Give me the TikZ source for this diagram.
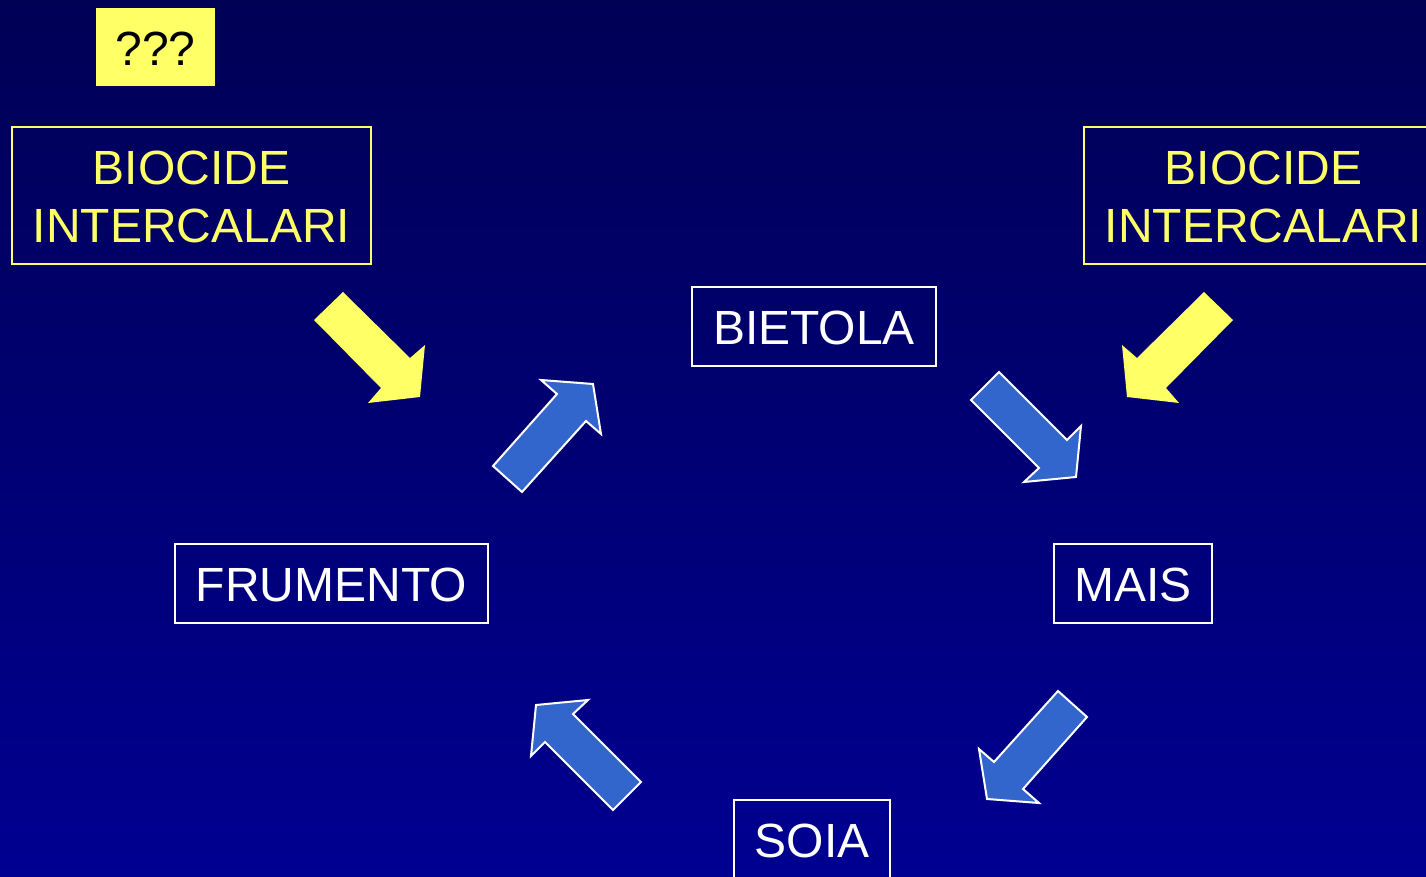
\documentclass[tikz,border=0pt]{standalone}
\usepackage{fontspec}
\setmainfont{Liberation Sans}
\definecolor{bgtop}{RGB}{0,0,85}
\definecolor{bgbot}{RGB}{0,0,145}
\definecolor{yel}{RGB}{255,255,102}
\definecolor{blu}{RGB}{51,102,204}
\begin{document}
\begin{tikzpicture}[x=0.5pt,y=-0.5pt,
  box/.style={draw=white, line width=0.8pt, text=white, inner sep=0pt, align=center,
    font=\fontsize{24}{29}\selectfont},
  ybox/.style={box, draw=yel, text=yel},
  qbox/.style={fill=yel, text=black, inner sep=0pt, font=\fontsize{24}{29}\selectfont,
    minimum width=59.5pt, minimum height=39pt},
  lbl/.style={inner sep=0pt, align=center, font=\fontsize{24}{29}\selectfont},
  yarrow/.style={fill=yel},
  barrow/.style={fill=blu, draw=white, line width=1pt, line join=miter}]
\useasboundingbox (0,0) rectangle (1426,877);
\shade[top color=bgtop, bottom color=bgbot] (0,0) rectangle (1426,877);

% boxes
\node[qbox] (q) at (155.5,47) {};
\node[lbl, text=black] (qt) at (155.5,49) {???};
\node[ybox, minimum width=179.5pt, minimum height=68.5pt] (bl) at (191.5,195.5) {};
\node[lbl, text=yel] (blt) at (191.5,197) {BIOCIDE\\INTERCALARI};
\node[ybox, minimum width=179.5pt, minimum height=68.5pt] (br) at (1263.5,195.5) {};
\node[lbl, text=yel] (brt) at (1263.5,197) {BIOCIDE\\INTERCALARI};
\node[box, minimum width=122pt, minimum height=39.5pt] (bietola) at (814,326.5) {};
\node[lbl, text=white] (bietolat) at (814,328) {BIETOLA};
\node[box, minimum width=156.5pt, minimum height=39.5pt] (frumento) at (331.5,583.5) {};
\node[lbl, text=white] (frumentot) at (331.5,585) {FRUMENTO};
\node[box, minimum width=79pt, minimum height=39.5pt] (mais) at (1133,583.5) {};
\node[lbl, text=white] (maist) at (1133,585) {MAIS};
\node[box, minimum width=78pt, minimum height=39.5pt] (soia) at (812,839.5) {};
\node[lbl, text=white] (soiat) at (812,841) {SOIA};

% yellow block arrows
\fill[yarrow] (314,320) -- (343,292) -- (410,358) -- (425,345) -- (420,397) -- (368,403) -- (381,388) -- cycle;
\fill[yarrow] (1233,320) -- (1204,292) -- (1137,358) -- (1122,345) -- (1127,397) -- (1179,403) -- (1166,388) -- cycle;

% blue block arrows
\filldraw[barrow] (493,466) -- (522,492) -- (586,421) -- (601,434) -- (593,384) -- (541,380) -- (557,394) -- cycle;
\filldraw[barrow] (971,400) -- (999,372) -- (1067,440) -- (1081,426) -- (1076,477) -- (1024,482) -- (1039,468) -- cycle;
\filldraw[barrow] (1087,717) -- (1058,691) -- (994,762) -- (979,749) -- (987,799) -- (1039,803) -- (1023,789) -- cycle;
\filldraw[barrow] (641,782) -- (613,810) -- (545,742) -- (531,756) -- (536,705) -- (588,700) -- (573,714) -- cycle;
\end{tikzpicture}
\end{document}
